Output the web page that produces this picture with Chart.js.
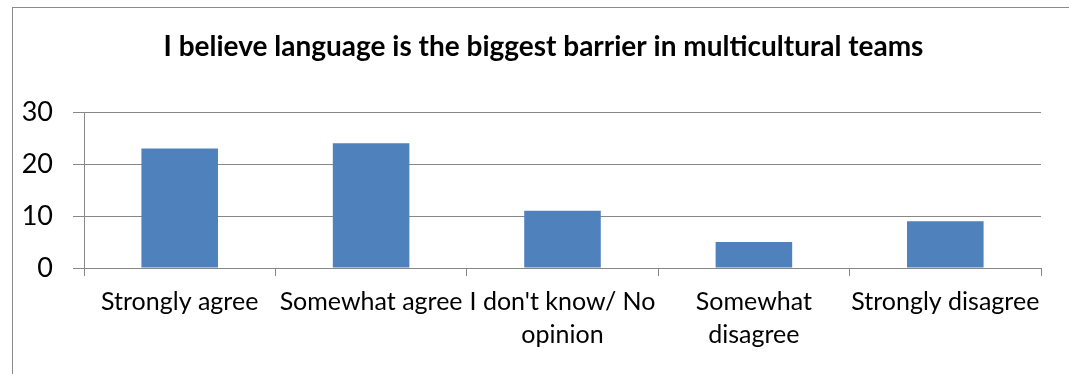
<!DOCTYPE html>
<html>
<head>
<meta charset="utf-8">
<script src="https://cdn.jsdelivr.net/npm/chart.js@4"></script>
<style>
  body { margin: 0; background: #fff; }
  #wrap { position: relative; width: 1069px; height: 374px; overflow: hidden; }
  #frame { position: absolute; left: 12px; top: 7px; right: -5px; bottom: -5px;
           border-left: 1px solid #8a8a8a; border-top: 1px solid #8a8a8a; }
  canvas { position: absolute; left: 0; top: 0; }
</style>
</head>
<body>
<div id="wrap">
  <div id="frame"></div>
  <canvas id="myChart" width="1069" height="374"></canvas>
</div>
<script>
// 응답 항목 (줄바꿈 되는 항목은 배열로)
const categories = [
    'Strongly agree',
    'Somewhat agree',
    ["I don't know/ No", 'opinion'],
    ['Somewhat', 'disagree'],
    'Strongly disagree'
];
// 항목별 응답 수
const responses = [23, 24, 11, 5, 9];
// 세로축 눈금
const yTicks = [0, 10, 20, 30];

const chartTitle = 'I believe language is the biggest barrier in multicultural teams';
const lineColor = '#878787';
const fontName = 'Lato';

// 제목 그리기 (기본 title 은 가운데가 조금 달라서 직접 그림)
const titlePlugin = {
    id: 'titleText',
    afterDraw(chart) {
        const c = chart.ctx;
        c.save();
        c.font = 'bold 28px ' + fontName;
        c.fillStyle = '#000';
        c.textAlign = 'center';
        c.textBaseline = 'middle';
        c.fillText(chartTitle, 543.5, 46.5);
        c.restore();
    }
};

let ctx = document.getElementById('myChart');

let config = {
    type: 'bar',
    data: {
        labels: categories,
        datasets: [
            {
                label: 'Responses',
                data: responses,
                backgroundColor: '#4f81bd',
                borderWidth: 0,
                barPercentage: 0.4,
                categoryPercentage: 1.0
            }
        ]
    },
    options: {
        responsive: false,
        animation: false,
        devicePixelRatio: 1,
        layout: { padding: { left: 0, right: 28, top: 112, bottom: 0 } },
        plugins: {
            legend: { display: false },
            tooltip: { enabled: false },
            title: { display: false }
        },
        scales: {
            x: {
                grid: {
                    drawOnChartArea: false,
                    drawTicks: true,
                    tickLength: 8,
                    color: lineColor
                },
                border: { color: lineColor },
                ticks: {
                    color: '#000',
                    padding: 10,
                    maxRotation: 0,
                    autoSkip: false,
                    font: { family: fontName, size: 25, lineHeight: 1.3 }
                },
                afterFit: (scale) => { scale.height = 106; }
            },
            y: {
                min: yTicks[0],
                max: yTicks[yTicks.length - 1],
                grid: {
                    color: lineColor,
                    tickLength: 11
                },
                border: { color: lineColor },
                afterBuildTicks: (scale) => {
                    scale.ticks = yTicks.map(v => ({ value: v }));
                },
                ticks: {
                    color: '#000',
                    padding: 20,
                    font: { family: fontName, size: 27 }
                },
                afterFit: (scale) => { scale.width = 84; }
            }
        }
    },
    plugins: [titlePlugin]
};

let myChart = new Chart(ctx, config);
</script>
</body>
</html>
